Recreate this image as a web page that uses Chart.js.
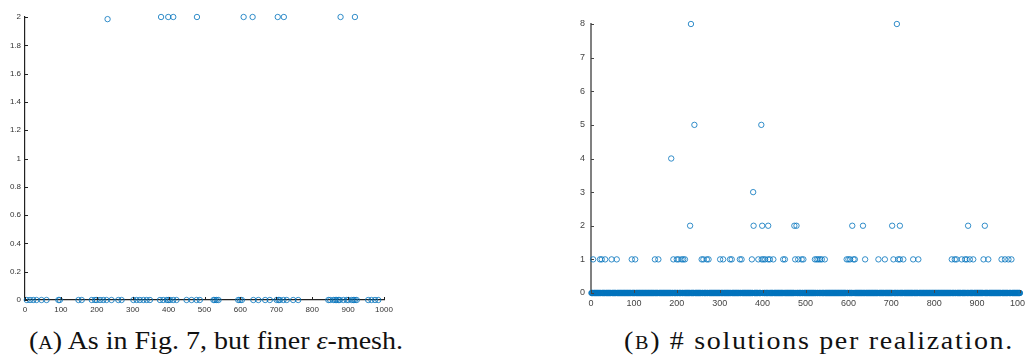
<!DOCTYPE html>
<html>
<head>
<meta charset="utf-8">
<script src="https://cdn.jsdelivr.net/npm/chart.js@4"></script>
<style>
  html, body { margin: 0; padding: 0; background: #fff; width: 1025px; height: 360px; overflow: hidden; }
  .box { position: absolute; }
  .cap { position: absolute; top: 327px; font-family: "Liberation Serif", "DejaVu Serif", serif; font-size: 25px; color: #111; white-space: nowrap; transform: translateX(-50%) scaleX(1.12); }
  .sc { font-variant: small-caps; }
</style>
</head>
<body>
<div class="box" style="left:0;top:0;width:400px;height:325px"><canvas id="chartA"></canvas></div>
<div class="box" style="left:540px;top:0;width:500px;height:320px"><canvas id="chartB"></canvas></div>
<div class="cap" style="left:216px"><span class="sc">(a)</span> As in Fig. 7, but finer <i>ε</i>-mesh.</div>
<div class="cap" style="left:819px;letter-spacing:1.5px"><span class="sc">(b)</span> # solutions per realization.</div>
<script>
// Panel A: realizations on the 0 row and on the 2 row
const aZeroX = [5, 14, 23, 32, 46, 60, 93, 97, 149, 158, 186, 195, 200, 209, 218, 227, 241, 260, 269,
  302, 311, 320, 330, 339, 348, 376, 385, 395, 399, 404, 413, 422, 450, 464, 478, 487, 525, 529, 534,
  539, 594, 599, 604, 636, 650, 669, 682, 701, 706, 710, 720, 729, 747, 761, 845, 850, 859, 864, 868,
  873, 877, 887, 896, 901, 910, 915, 919, 924, 956, 965, 975, 984];
const aTopX = [230, 379, 399, 413, 479, 609, 634, 704, 721, 879, 919];
const aTopY = [1.985, 2, 2, 2, 2, 2, 2, 2, 2, 2, 2];
const aTicksY = [0, 0.2, 0.4, 0.6, 0.8, 1, 1.2, 1.4, 1.6, 1.8, 2];

// Panel B: number of solutions per realization
const bHighX = [187, 233, 241, 378, 397, 713, 231, 379, 399, 413, 474, 479, 609, 634, 702, 720, 879, 918];
const bHighY = [4, 8, 5, 3, 5, 8, 2, 2, 2, 2, 2, 2, 2, 2, 2, 2, 2, 2];
const bOneX = [5, 21, 25, 33, 48, 60, 95, 103, 149, 157, 192, 200, 204, 211, 215, 219, 258, 262, 270,
  274, 301, 308, 324, 328, 347, 351, 375, 390, 398, 402, 406, 413, 417, 425, 448, 452, 476, 483, 491,
  495, 522, 526, 530, 534, 538, 545, 596, 600, 604, 612, 615, 639, 670, 685, 705, 716, 720, 728, 751,
  763, 841, 848, 852, 864, 872, 876, 883, 891, 915, 926, 957, 965, 973, 980];
const nRealizations = 1000;

const blue = '#0072BD';

// every realization not listed above sits on the 0 row (solid band in the picture)
const taken = new Set([...bOneX, ...bHighX]);
const bZero = [];
for (let i = 1; i <= nRealizations; i++) if (!taken.has(i)) bZero.push({x: i, y: 0});

// inward tick marks, matlab style
const innerTicks = {
  id: 'innerTicks',
  afterDraw(chart, args, opts) {
    const {ctx, chartArea, scales} = chart;
    ctx.save();
    ctx.strokeStyle = opts.color;
    ctx.lineWidth = 1;
    ctx.beginPath();
    scales.x.ticks.forEach((t, i) => {
      const px = Math.round(scales.x.getPixelForTick(i)) + 0.5;
      ctx.moveTo(px, chartArea.bottom);
      ctx.lineTo(px, chartArea.bottom - opts.len);
    });
    scales.y.ticks.forEach((t, i) => {
      const py = Math.round(scales.y.getPixelForTick(i)) + 0.5;
      ctx.moveTo(chartArea.left, py);
      ctx.lineTo(chartArea.left + opts.len, py);
    });
    ctx.stroke();
    ctx.restore();
  }
};

const circle = {
  showLine: false, pointStyle: 'circle', pointRadius: 2.7, pointHoverRadius: 2.7,
  pointBorderWidth: 0.8, pointBorderColor: blue, pointBackgroundColor: 'rgba(0,0,0,0)', clip: false
};

function axes(o) {
  return {
    x: {
      type: 'linear', min: 0, max: 1000,
      afterFit: s => { s.height = o.xh; },
      grid: {display: false, drawTicks: false},
      border: {display: true, color: o.axisColor, width: o.axisWidth},
      ticks: {stepSize: 100, padding: o.xpad, color: o.labelColor, maxRotation: 0,
        callback: v => String(v),
        font: {family: 'Liberation Sans', size: o.fs}}
    },
    y: {
      type: 'linear', min: 0, max: o.ymax,
      afterFit: s => { s.width = o.yw; },
      grid: {display: false, drawTicks: false},
      border: {display: true, color: o.axisColor, width: o.axisWidth},
      afterBuildTicks: s => { s.ticks = o.ticks.map(v => ({value: v})); },
      ticks: {padding: o.ypad, color: o.labelColor,
        callback: v => String(v),
        font: {family: 'Liberation Sans', size: o.fs}}
    }
  };
}

new Chart(document.getElementById('chartA'), {
  type: 'scatter',
  data: {
    datasets: [
      {...circle, data: aZeroX.map(x => ({x, y: 0}))},
      {...circle, data: aTopX.map((x, i) => ({x, y: aTopY[i]}))}
    ]
  },
  options: {
    responsive: true, maintainAspectRatio: false, animation: false,
    layout: {padding: {left: 0, right: 16, top: 17, bottom: 0}},
    scales: axes({xh: 25, yw: 25, ymax: 2, ticks: aTicksY, axisColor: '#222', axisWidth: 1.2,
      labelColor: '#333', fs: 8, xpad: 5, ypad: 4}),
    plugins: {legend: {display: false}, tooltip: {enabled: false},
      innerTicks: {color: '#222', len: 3}}
  },
  plugins: [innerTicks]
});

new Chart(document.getElementById('chartB'), {
  type: 'scatter',
  data: {
    datasets: [
      {...circle, data: bZero},
      {...circle, data: bOneX.map(x => ({x, y: 1}))},
      {...circle, data: bHighX.map((x, i) => ({x, y: bHighY[i]}))}
    ]
  },
  options: {
    responsive: true, maintainAspectRatio: false, animation: false,
    layout: {padding: {left: 0, right: 20, top: 24, bottom: 0}},
    scales: axes({xh: 27, yw: 51, ymax: 8, ticks: [0, 1, 2, 3, 4, 5, 6, 7, 8], axisColor: '#808080',
      axisWidth: 2, labelColor: '#444', fs: 9, xpad: 5, ypad: 6}),
    plugins: {legend: {display: false}, tooltip: {enabled: false},
      innerTicks: {color: '#444', len: 3}}
  },
  plugins: [innerTicks]
});
</script>
</body>
</html>
